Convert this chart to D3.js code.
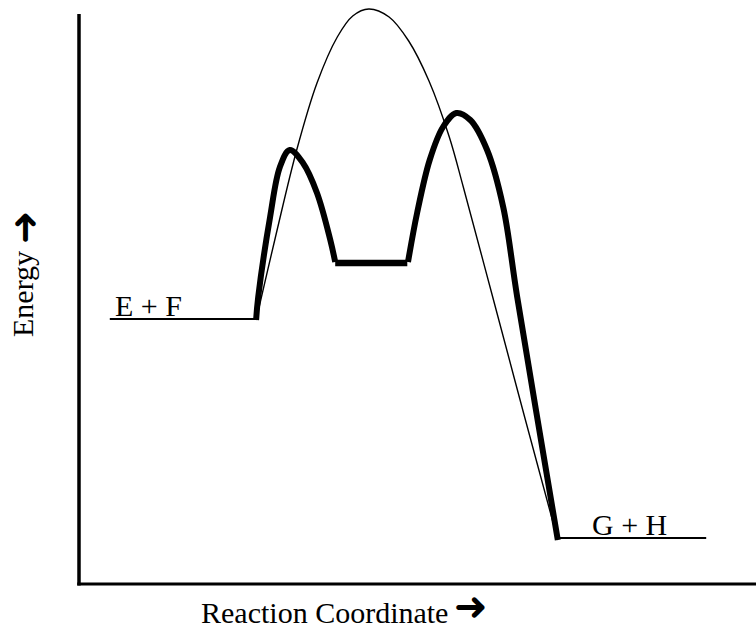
<!DOCTYPE html>
<html>
<head>
<meta charset="utf-8">
<script src="https://cdn.jsdelivr.net/npm/d3@7"></script>
<style>
  html, body { margin: 0; padding: 0; background: #fff; }
  svg { display: block; }
  .info { font-family: 'Liberation Serif', 'Times New Roman', serif; fill: #000; }
  .arrow { font-family: 'DejaVu Sans', sans-serif; fill: #000; }
</style>
</head>
<body>
<div id="main"></div>
<script>
// uncatalysed path (thin line), [reaction coordinate, energy]
const thinCurve = [
  [25.3, 52.8], [28.1, 69.6], [31.1, 86.8], [34.0, 100.2], [36.9, 109.4],
  [39.1, 113.6], [41.4, 115.0], [44.3, 113.4], [47.1, 108.6], [50.0, 100.6],
  [52.9, 89.4], [54.9, 79.4], [59.1, 57.4], [63.7, 33.2], [68.4, 8.8]
];
// catalysed path (thick line), first hump
const thickLeft = [
  [25.3, 52.8], [25.6, 57.4], [27.3, 73.4], [28.7, 83.4], [30.1, 86.8],
  [32.0, 84.2], [34.0, 78.2], [35.9, 68.8], [36.6, 64.4]
];
// intermediate plateau
const plateau = [[36.6, 64.2], [46.9, 64.2]];
// catalysed path, second hump
const thickRight = [
  [47.0, 64.4], [48.3, 74.2], [50.1, 84.8], [52.0, 91.4], [53.9, 94.2],
  [55.9, 92.8], [58.3, 86.8], [60.6, 75.4], [62.6, 57.4], [68.4, 8.8]
];
// reactant / product levels
const levelLabels = ['E + F', 'G + H'];
const levelEnergy = [53.0, 9.2];
const levelStart = [4.4, 68.4];
const levelEnd = [25.3, 89.6];

function main() {
  const width = 756;
  const height = 630;

  const xScale = d3.scaleLinear().domain([0, 100]).range([79, 779]);
  const yScale = d3.scaleLinear().domain([0, 115]).range([584, 9]);

  const svg = d3.select('#main')
    .append('svg')
    .attr('width', width)
    .attr('height', height);

  // axes drawn as plain lines, no ticks
  svg.append('line')
    .attr('x1', xScale(0)).attr('x2', xScale(0))
    .attr('y1', yScale(0) + 1.5).attr('y2', yScale(114))
    .style('stroke', '#000').style('stroke-width', 3.5);
  svg.append('line')
    .attr('x1', xScale(0) - 1.75).attr('x2', width)
    .attr('y1', yScale(0)).attr('y2', yScale(0))
    .style('stroke', '#000').style('stroke-width', 3);

  const line = d3.line()
    .x(d => xScale(d[0]))
    .y(d => yScale(d[1]))
    .curve(d3.curveCatmullRom.alpha(0.5));

  // energy levels
  levelLabels.forEach((label, i) => {
    svg.append('line')
      .attr('x1', xScale(levelStart[i])).attr('x2', xScale(levelEnd[i]))
      .attr('y1', yScale(levelEnergy[i])).attr('y2', yScale(levelEnergy[i]))
      .style('stroke', '#000').style('stroke-width', 2);
  });

  // thin curve
  svg.append('path')
    .datum(thinCurve)
    .attr('d', line)
    .style('fill', 'none').style('stroke', '#000').style('stroke-width', 1.4);

  // thick curve
  [thickLeft, thickRight].forEach(seg => {
    svg.append('path')
      .datum(seg)
      .attr('d', line)
      .style('fill', 'none').style('stroke', '#000').style('stroke-width', 6);
  });
  svg.append('path')
    .datum(plateau)
    .attr('d', d3.line().x(d => xScale(d[0])).y(d => yScale(d[1])))
    .style('fill', 'none').style('stroke', '#000').style('stroke-width', 6.5);

  // level labels
  svg.append('text')
    .attr('x', 115).attr('y', 316)
    .classed('info', true)
    .style('font-size', '30px')
    .text(levelLabels[0]);
  svg.append('text')
    .attr('x', 592).attr('y', 535)
    .classed('info', true)
    .style('font-size', '30px')
    .text(levelLabels[1]);

  // x axis label
  svg.append('text')
    .attr('x', 201).attr('y', 623)
    .classed('info', true)
    .style('font-size', '30px')
    .text('Reaction Coordinate');
  svg.append('text')
    .attr('x', 454).attr('y', 620)
    .classed('arrow', true)
    .style('font-size', '40px')
    .text('\u279C');

  // y axis label
  svg.append('text')
    .attr('transform', 'translate(33,337) rotate(-90)')
    .classed('info', true)
    .style('font-size', '30px')
    .text('Energy');
  svg.append('text')
    .attr('transform', 'translate(38,244) rotate(-90)')
    .classed('arrow', true)
    .style('font-size', '40px')
    .text('\u279C');
}

document.addEventListener('DOMContentLoaded', main);
</script>
</body>
</html>
